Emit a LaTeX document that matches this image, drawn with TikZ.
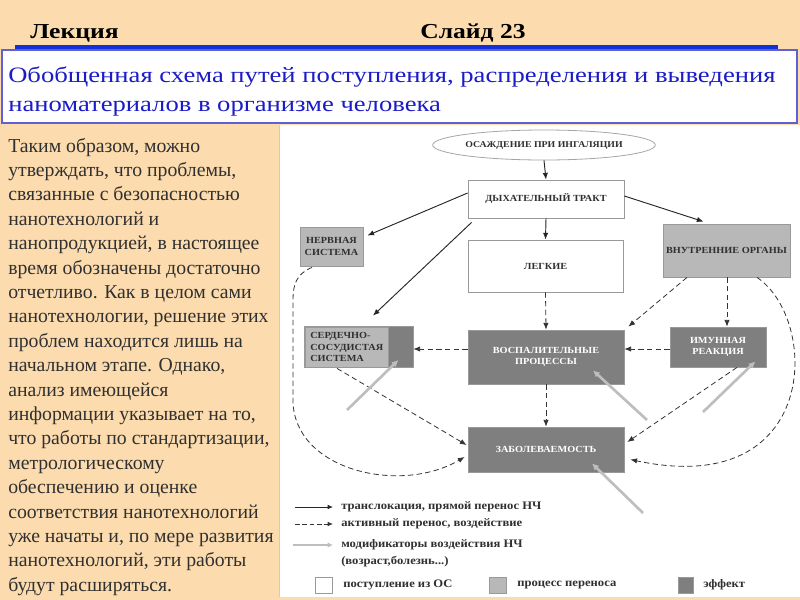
\documentclass[tikz,border=0pt]{standalone}
\usepackage{fontspec}
\setmainfont{Liberation Serif}
\newfontfamily\hdr[FakeStretch=1.2]{Liberation Serif}
\newfontfamily\ttl[FakeStretch=1.21]{Liberation Serif}
\newfontfamily\dgm[FakeStretch=1.1]{Liberation Serif}
\usetikzlibrary{arrows.meta,calc,shapes.geometric}
\definecolor{peach}{HTML}{FCDCAE}
\definecolor{tblue}{HTML}{1B1BC8}
\definecolor{lblue}{HTML}{1030D8}
\definecolor{lg}{HTML}{B8B8B8}
\definecolor{dg}{HTML}{7F7F7F}
\definecolor{mg}{HTML}{BEBEBE}
\definecolor{txt}{HTML}{303030}
\tikzset{
  lab/.style={inner sep=0pt, anchor=base west},
  box/.style={draw=gray!80, line width=0.6pt, inner sep=1pt, align=center,
    font=\dgm\bfseries\fontsize{7}{8.5}\selectfont, text=txt},
  wbox/.style={box, fill=white},
  lbox/.style={box, fill=lg},
  dbox/.style={box, fill=dg, text=white},
  sol/.style={draw=black!85, line width=0.7pt, -{Latex[length=5pt,width=4pt]}},
  dsh/.style={draw=black!80, line width=0.6pt, dash pattern=on 4pt off 2.5pt, -{Latex[length=5pt,width=4pt]}},
  mod/.style={draw=mg, line width=2pt, -{Latex[length=5pt,width=5pt]}},
  leg/.style={inner sep=0pt, anchor=west, font=\dgm\bfseries\fontsize{8.6}{10.5}\selectfont, text=txt, align=left},
}
\begin{document}
\begin{tikzpicture}[x=0.75pt,y=-0.75pt]
\useasboundingbox (0,0) rectangle (800,600);
\fill[peach] (0,0) rectangle (800,600);
\fill[white] (279,125) rectangle (800,597);
\draw[gray!40, line width=0.5pt] (279,125) -- (279,597);
% header
\node[lab, font=\hdr\bfseries\fontsize{16}{16}\selectfont] (lek) at (30,38) {Лекция};
\node[lab, font=\hdr\bfseries\fontsize{16}{16}\selectfont] (sl) at (420,38) {Слайд 23};
\fill[lblue] (15,45) rectangle (778,50);
\draw[tblue!70, line width=1pt, fill=white] (2,50) rectangle (797,123);
\node[lab, font=\ttl\fontsize{16.5}{20}\selectfont, text=tblue] (t1) at (8,82) {Обобщенная схема путей поступления, распределения и выведения};
\node[lab, font=\ttl\fontsize{16.5}{20}\selectfont, text=tblue] (t2) at (8,111) {наноматериалов в организме человека};
% left text
\foreach \t [count=\i] in {{Таким образом, можно},{утверждать, что проблемы,},{связанные с безопасностью},{нанотехнологий и},{нанопродукцией, в настоящее},{время обозначены достаточно},{отчетливо. Как в целом сами},{нанотехнологии, решение этих},{проблем находится лишь на},{начальном этапе. Однако,},{анализ имеющейся},{информации указывает на то,},{что работы по стандартизации,},{метрологическому},{обеспечению и оценке},{соответствия нанотехнологий},{уже начаты и, по мере развития},{нанотехнологий, эти работы},{будут расширяться.}}
  \node[lab, font=\fontsize{14.8}{16}\selectfont, text=txt] (p\i) at (8,{152+24.4*(\i-1)}) {\t};
% diagram nodes
\node[draw=gray!70, line width=0.6pt, fill=white, ellipse, minimum width=148.5pt, minimum height=22.5pt, inner sep=0pt, font=\dgm\bfseries\fontsize{6.7}{8}\selectfont, text=txt] (ell) at (544,145) {ОСАЖДЕНИЕ ПРИ ИНГАЛЯЦИИ};
\node[wbox, minimum width=117pt, minimum height=28.5pt] (dyh) at (546,199) {ДЫХАТЕЛЬНЫЙ ТРАКТ};
\node[lbox, minimum width=47.25pt, minimum height=29.25pt] (nerv) at (331.5,246.5) {НЕРВНАЯ\\СИСТЕМА};
\node[wbox, minimum width=116.25pt, minimum height=39pt] (leg) at (545.5,266) {ЛЕГКИЕ};
\node[lbox, minimum width=95.25pt, minimum height=39.75pt] (vn) at (726.5,250.5) {ВНУТРЕННИЕ ОРГАНЫ};
\node[lbox, minimum width=81pt, minimum height=30pt] (serd) at (359,347) {};
\fill[dg] ($(serd.north east)+(-25,0)$) rectangle (serd.south east);
\draw[gray!80, line width=0.6pt] (serd.north west) rectangle (serd.south east);
\draw[gray!80, line width=0.6pt] ($(serd.north east)+(-25,0)$) -- ($(serd.south east)+(-25,0)$);
\node[inner sep=0pt, anchor=west, align=left, font=\dgm\bfseries\fontsize{7}{8.5}\selectfont, text=txt] (serdt) at (310,347) {СЕРДЕЧНО-\\СОСУДИСТАЯ\\СИСТЕМА};
\node[dbox, minimum width=117pt, minimum height=40.5pt] (vosp) at (546,357) {ВОСПАЛИТЕЛЬНЫЕ\\ПРОЦЕССЫ};
\node[dbox, minimum width=72pt, minimum height=30pt] (imun) at (718,347) {ИМУННАЯ\\РЕАКЦИЯ};
\node[dbox, minimum width=117pt, minimum height=33.75pt] (zab) at (546,449.5) {ЗАБОЛЕВАЕМОСТЬ};
% solid arrows
\draw[sol] (ell.south) -- (dyh.north);
\draw[sol] ($(dyh.west)+(0,-6)$) -- ($(nerv.east)+(4,-11)$);
\draw[sol] ($(dyh.east)+(0,-3)$) -- ($(vn.north)+(-23,-2)$);
\draw[sol] (dyh.south) -- (leg.north);
\draw[sol] ($(dyh.south west)+(4,4)$) -- ($(serd.north)+(14,-11)$);
% dashed arrows
\draw[dsh] (leg.south) -- (vosp.north);
\draw[dsh] ($(vosp.west)+(0,-8)$) -- ($(serd.east)+(0,2)$);
\draw[dsh] ($(imun.west)+(0,2)$) -- ($(vosp.east)+(0,-8)$);
\draw[dsh] ($(vn.south)+(-39.5,0)$) -- ($(vosp.north east)+(4,-3)$);
\draw[dsh] ($(vn.south)+(0.5,0)$) -- ($(imun.north)+(9,0)$);
\draw[dsh] ($(vn.south)+(30.5,0)$) .. controls (820,320) and (820,500) .. ($(zab.east)+(6,10)$);
\draw[dsh] ($(nerv.south)+(-19.5,1)$) .. controls (296,274) and (293,285) .. (293,300) -- (293,400) .. controls (293,470) and (400,495) .. ($(zab.west)+(-3,7.5)$);
\draw[dsh] ($(serd.south)+(-22,1)$) -- ($(zab.west)+(-1,-4.5)$);
\draw[dsh] ($(imun.south)+(19,0)$) -- ($(zab.east)+(3,-7.5)$);
\draw[dsh] (vosp.south) -- (zab.north);
% modifier arrows
\coordinate (g1) at (347,410);
\coordinate (g2) at (647,420);
\coordinate (g3) at (703,412);
\coordinate (g4) at (643,513);
\draw[mod] (g1) -- ($(serd.east)+(-15,13)$);
\draw[mod] (g2) -- ($(vosp.south)+(47,-14)$);
\draw[mod] (g3) -- ($(imun.south east)+(-11,-6)$);
\draw[mod] (g4) -- ($(zab.south)+(46,-9)$);
% legend
\coordinate (a1) at (295,507); \coordinate (b1) at (333,507);
\coordinate (a2) at (295,524); \coordinate (b2) at (333,524);
\coordinate (a3) at (293,545); \coordinate (b3) at (333,545);
\draw[draw=black!85, line width=0.6pt, -{Latex[length=4pt,width=3.5pt]}] (a1) -- (b1);
\draw[draw=black!80, line width=0.6pt, dash pattern=on 3.5pt off 2pt, -{Latex[length=4pt,width=3.5pt]}] (a2) -- (b2);
\draw[draw=mg, line width=1.5pt, -{Latex[length=4pt,width=4pt]}] (a3) -- (b3);
\node[leg] (lt1) at (341,507) {транслокация, прямой перенос НЧ};
\node[leg] (lt2) at (341,524) {активный перенос, воздействие};
\node[leg] (lt3) at (341,545) {модификаторы воздействия НЧ};
\node[leg] (lt4) at (341,562) {(возраст,болезнь...)};
\node[draw=gray!80, line width=0.6pt, fill=white, minimum width=12.75pt, minimum height=12pt, inner sep=0pt] (s1) at (323.5,585) {};
\node[draw=gray!80, line width=0.6pt, fill=lg, minimum width=12.75pt, minimum height=12pt, inner sep=0pt] (s2) at (497.5,585) {};
\node[draw=gray!80, line width=0.6pt, fill=dg, minimum width=11.25pt, minimum height=12pt, inner sep=0pt] (s3) at (685.5,585) {};
\node[leg] (st1) at (343,585) {поступление из ОС};
\node[leg] (st2) at (517,585) {процесс переноса};
\node[leg] (st3) at (703,585) {эффект};
\end{tikzpicture}
\end{document}
